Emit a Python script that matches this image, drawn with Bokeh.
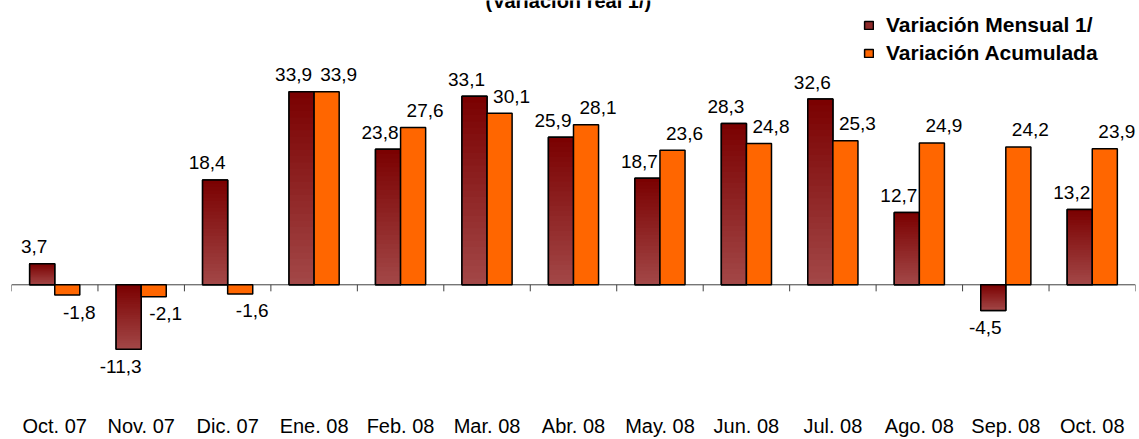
from bokeh.plotting import figure
from bokeh.models import ColumnDataSource, FixedTicker, Legend, LegendItem
from bokeh.core.properties import value
from bokeh.embed import file_html
from bokeh.resources import INLINE

# ---- data ----
categories = ["Oct. 07", "Nov. 07", "Dic. 07", "Ene. 08", "Feb. 08", "Mar. 08", "Abr. 08",
              "May. 08", "Jun. 08", "Jul. 08", "Ago. 08", "Sep. 08", "Oct. 08"]
mensual = [3.7, -11.3, 18.4, 33.9, 23.8, 33.1, 25.9, 18.7, 28.3, 32.6, 12.7, -4.5, 13.2]
acumulada = [-1.8, -2.1, -1.6, 33.9, 27.6, 30.1, 28.1, 23.6, 24.8, 25.3, 24.9, 24.2, 23.9]
series_names = ["Variación Mensual 1/", "Variación Acumulada"]
title_text = "(Variación real 1/)"

# ---- styles ----
FONT = "Liberation Sans"
DARK_TOP = (0x7A, 0x00, 0x00)
DARK_BOT = (0xA3, 0x48, 0x48)
DARK_MID = "#8E2A2A"
ORANGE = "#FF6600"
BAR_W = 0.29
PX = 5.71                      # pixels per unit (visual scale)
Y_TOP, Y_BOT = 285 / PX, -115 / PX

n = len(categories)
xs = list(range(n))

p = figure(width=1139, height=439, output_backend="svg", toolbar_location=None,
           x_range=(-0.5, n - 0.5), y_range=(Y_BOT, Y_TOP),
           min_border_left=11, min_border_right=4, min_border_top=0, min_border_bottom=39)
p.background_fill_color = "white"
p.border_fill_color = "white"
p.outline_line_color = None
p.xgrid.visible = False
p.ygrid.visible = False
p.yaxis.visible = False

# zero axis line with boundary ticks
p.segment(x0=[-0.5], y0=[0], x1=[n - 0.5], y1=[0], line_color="#404040", line_width=1)
bounds = [i - 0.5 for i in range(n + 1)]
p.segment(x0=bounds, y0=[0] * len(bounds), x1=bounds, y1=[-1.15] * len(bounds),
          line_color="#404040", line_width=1)

# dark bars: solid base (used by legend), gradient strips, outline
r_dark = p.vbar(x=[i - BAR_W / 2 for i in xs], top=mensual, bottom=0, width=BAR_W,
                fill_color=DARK_MID, line_color="black", line_width=1.5)
NS = 30
gl, gr, gt, gb, gc = [], [], [], [], []
for i, v in zip(xs, mensual):
    top = max(v, 0.0)
    h = abs(v)
    step = h / NS
    for k in range(NS):
        t = (k + 0.5) / NS
        col = tuple(int(round(a + (b - a) * t)) for a, b in zip(DARK_TOP, DARK_BOT))
        gl.append(i - BAR_W)
        gr.append(i)
        gt.append(top - step * k)
        gb.append(top - step * (k + 1) - (0 if k == NS - 1 else step * 0.6))
        gc.append("#%02x%02x%02x" % col)
p.quad(left=gl, right=gr, top=gt, bottom=gb, fill_color=gc, line_color=None)
p.vbar(x=[i - BAR_W / 2 for i in xs], top=mensual, bottom=0, width=BAR_W,
       fill_alpha=0, line_color="black", line_width=1.5)

# orange bars
r_or = p.vbar(x=[i + BAR_W / 2 for i in xs], top=acumulada, bottom=0, width=BAR_W,
              fill_color=ORANGE, line_color="black", line_width=1.5)

# value labels
def fmt(v):
    return f"{v:.1f}".replace(".", ",")

lab_src = ColumnDataSource(dict(
    x=[i - BAR_W / 2 for i in xs] + [i + BAR_W / 2 for i in xs],
    y=mensual + acumulada,
    t=[fmt(v) for v in mensual] + [fmt(v) for v in acumulada],
    xo=[-8] * n + [12] * n,
    yo=[(-17 if v >= 0 else 17) for v in mensual + acumulada],
))
p.text(x="x", y="y", text="t", x_offset="xo", y_offset="yo", source=lab_src,
       text_font=value(FONT), text_font_size="19px", text_color="black",
       text_align="center", text_baseline="middle")

# partially visible title at the very top
p.text(x=[5.94], y=[Y_TOP], text=[title_text],
       text_font=value(FONT), text_font_size="20px", text_font_style="bold",
       text_color="black", text_align="center", text_baseline="alphabetic")

# x axis labels at bottom
p.xaxis.ticker = FixedTicker(ticks=xs)
p.xaxis.major_label_overrides = {i: c for i, c in zip(xs, categories)}
p.xaxis.axis_line_color = None
p.xaxis.major_tick_line_color = None
p.xaxis.minor_tick_line_color = None
p.xaxis.major_tick_out = 0
p.xaxis.major_tick_in = 0
p.xaxis.major_label_standoff = 15
p.xaxis.major_label_text_font = FONT
p.xaxis.major_label_text_font_size = "20px"
p.xaxis.major_label_text_color = "black"

# legend
legend = Legend(items=[LegendItem(label=series_names[0], renderers=[r_dark]),
                       LegendItem(label=series_names[1], renderers=[r_or])],
                location=(852, 334), padding=0, margin=0, spacing=4,
                glyph_width=11, glyph_height=10, label_height=24, label_standoff=12,
                label_text_font=FONT, label_text_font_size="21px",
                label_text_font_style="bold", label_text_color="black",
                border_line_alpha=0, background_fill_alpha=0)
p.add_layout(legend, "center")

open("out.html", "w").write(file_html(p, INLINE))
